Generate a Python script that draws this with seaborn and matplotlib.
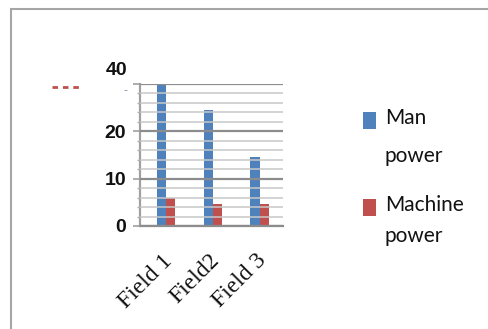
import matplotlib
matplotlib.use("Agg")
import matplotlib.pyplot as plt
import matplotlib.transforms as mtransforms
import seaborn as sns
import pandas as pd
from matplotlib.patches import Rectangle
from matplotlib.lines import Line2D
from matplotlib.ticker import MultipleLocator

# Data
fields = ["Field 1", "Field2", "Field 3"]
man_power = [30, 24.5, 14.5]
machine_power = [6, 4.7, 4.7]
series = ["Man power", "Machine power"]
colors = ["#4F81BD", "#C0504D"]
y_ticks = [0, 10, 20, 30]
y_tick_labels = ["0", "10", "20", ""]

df = pd.DataFrame({
    "field": fields * 2,
    "value": man_power + machine_power,
    "series": [series[0]] * len(fields) + [series[1]] * len(fields),
})

sns.set_theme(style="white")
plt.rcParams["lines.scale_dashes"] = False

W, H = 488, 329
fig = plt.figure(figsize=(W / 100, H / 100), dpi=100)
fig.patch.set_facecolor("white")

def fx(px):
    return px / W

def fy(py):
    return 1 - py / H

ax = fig.add_axes([fx(140), fy(226), (283 - 140) / W, (226 - 84) / H])
sns.barplot(data=df, x="field", y="value", hue="series", palette=colors,
            width=0.39, gap=0, saturation=1, linewidth=0, errorbar=None,
            legend=False, ax=ax)

ax.set_xlim(-0.55, 2.5)
ax.set_ylim(0, 30)
ax.set_xlabel("")
ax.set_ylabel("")

# Gridlines on top of the bars
ax.set_axisbelow(False)
ax.yaxis.set_minor_locator(MultipleLocator(2))
ax.grid(which="major", axis="y", color="#8c8c8c", lw=1.6)
ax.grid(which="minor", axis="y", color="#c8c8c8", lw=1.1)
ax.grid(which="both", axis="x", visible=False)

for side in ("top", "right"):
    ax.spines[side].set_visible(False)
ax.spines["bottom"].set_color("#8c8c8c")
ax.spines["bottom"].set_linewidth(1.6)
ax.spines["left"].set_color("#a0a0a0")
ax.spines["left"].set_linewidth(1.6)

ax.set_yticks(y_ticks)
ax.set_yticklabels(y_tick_labels)
ax.tick_params(axis="y", which="major", left=True, length=5, width=1.2,
               color="#a0a0a0", pad=5, labelsize=14, labelcolor="#111111")
ax.tick_params(axis="y", which="minor", left=True, length=2.5, width=1.0,
               color="#b0b0b0")
for lab in ax.get_yticklabels():
    lab.set_fontfamily("Liberation Sans")
    lab.set_fontweight("bold")

ax.tick_params(axis="x", bottom=False, pad=10)
ax.set_xticks(range(len(fields)))
ax.set_xticklabels(fields, rotation=45, ha="right", rotation_mode="anchor",
                   fontfamily="Liberation Serif", fontsize=17, color="#111111")
shift = mtransforms.ScaledTranslation(-4 / 100, -2 / 100, fig.dpi_scale_trans)
for lab in ax.get_xticklabels():
    lab.set_transform(lab.get_transform() + shift)

# Stray axis text near the top of the value axis
ytr = ax.get_yaxis_transform()
ax.text(-0.09, 32.8, "40", transform=ytr, ha="right", va="center",
        fontsize=14, family="Liberation Sans", fontweight="bold",
        color="#111111", clip_on=False)
ax.text(-0.105, 28.8, "-", transform=ytr, ha="center", va="center",
        fontsize=8, color="#7f8fa8", clip_on=False)
fig.add_artist(Line2D([fx(52), fx(80)], [fy(87), fy(87)], color="#C0504D",
                      lw=2, linestyle=(0, (4, 3.5))))

# Legend
first_baselines = [124, 211]
line_gaps = [38, 31]
for name, col, base, gap in zip(series, colors, first_baselines, line_gaps):
    fig.add_artist(Rectangle((fx(363), fy(base + 5)), 13 / W, 17 / H,
                             transform=fig.transFigure, facecolor=col,
                             edgecolor="none"))
    words = name.split(" ")
    fig.text(fx(385), fy(base), words[0], ha="left", va="baseline",
             fontsize=15, family="Lato", color="#111111")
    fig.text(fx(385), fy(base + gap), words[1], ha="left", va="baseline",
             fontsize=15, family="Lato", color="#111111")

# Chart-area border
fig.add_artist(Rectangle((fx(11), -0.1), 1.0, fy(9) + 0.1,
                         transform=fig.transFigure, fill=False,
                         edgecolor="#a6a6a6", lw=1.5))

fig.savefig("out.png", dpi=100)
